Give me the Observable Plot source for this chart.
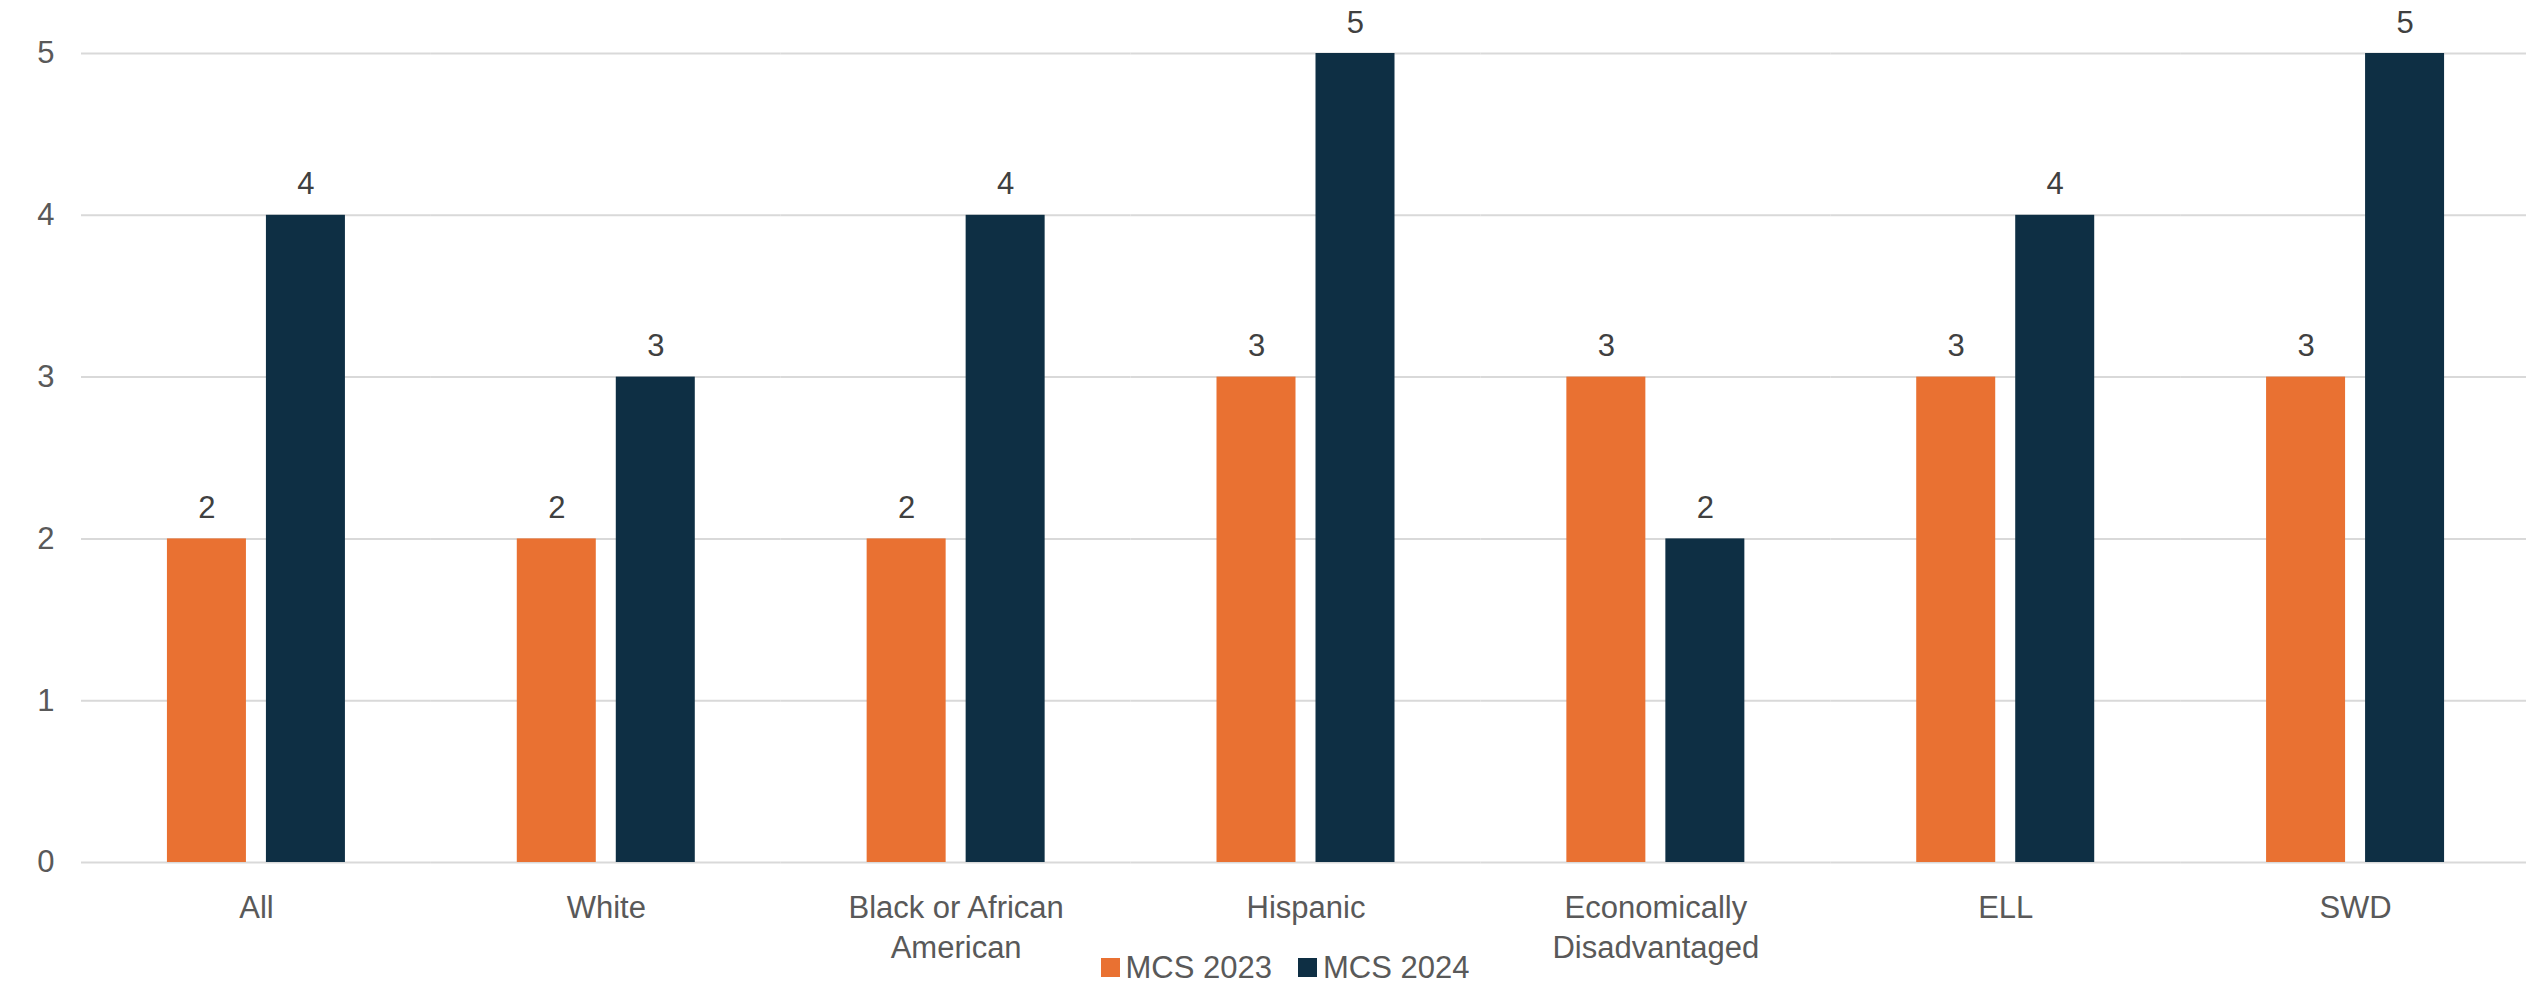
<!DOCTYPE html>
<html>
<head>
<meta charset="utf-8">
<script src="https://cdn.jsdelivr.net/npm/d3@7"></script>
<script src="https://cdn.jsdelivr.net/npm/@observablehq/plot@0.6"></script>
<style>
  html, body { margin: 0; padding: 0; background: #ffffff; overflow: hidden; }
  #chart { width: 2526px; }
  .legend { display: flex; justify-content: center; align-items: center; height: 31px; padding-left: 44px;
            font-family: "Liberation Sans", Arial, sans-serif; font-size: 31px; color: #595959; line-height: 31px; }
  .legend .item { display: flex; align-items: center; margin: 0 13px; }
  .legend .sw { width: 19px; height: 19px; margin-right: 6px; }
</style>
</head>
<body>
<div id="chart"></div>
<script>
const categories = ["All", "White", "Black or African American", "Hispanic", "Economically Disadvantaged", "ELL", "SWD"];
const tickLabels = ["All", "White", "Black or African\nAmerican", "Hispanic", "Economically\nDisadvantaged", "ELL", "SWD"];
const series = ["MCS 2023", "MCS 2024"];
const values2023 = [2, 2, 2, 3, 3, 3, 3];
const values2024 = [4, 3, 4, 5, 2, 4, 5];
const yTicks = [0, 1, 2, 3, 4, 5];
const colors = ["#E97132", "#0E2F44"];

const table = [];
categories.forEach((c, i) => {
  table.push({category: c, series: series[0], value: values2023[i]});
  table.push({category: c, series: series[1], value: values2024[i]});
});

const chart = Plot.plot({
  width: 2526,
  height: 952,
  marginTop: 53,
  marginBottom: 90,
  marginLeft: 81,
  marginRight: -4,
  style: {fontFamily: "Liberation Sans, Arial, sans-serif", fontSize: "31px", color: "#595959", background: "#ffffff", overflow: "visible"},
  fx: {domain: categories, padding: 0, round: false, axis: null},
  x: {domain: series, paddingInner: 0.202, paddingOuter: 0.868, round: false, axis: null},
  y: {domain: [0, 5], axis: null},
  color: {domain: series, range: colors},
  marks: [
    Plot.gridY(yTicks, {stroke: "#d9d9d9", strokeOpacity: 1, strokeWidth: 2}),
    Plot.barY(table, {fx: "category", x: "series", y: "value", fill: "series"}),
    Plot.text(table, {fx: "category", x: "series", y: "value", text: d => String(d.value), lineAnchor: "bottom", dy: -21, fill: "#404040", fontSize: 31}),
    Plot.axisY(yTicks, {tickSize: 0, tickPadding: 27, label: null, fontSize: 31, tickFormat: d => String(d)}),
    Plot.axisFx({anchor: "bottom", tickSize: 0, tickPadding: 27, label: null, lineHeight: 1.3, fontSize: 31,
      tickFormat: d => tickLabels[categories.indexOf(d)]})
  ]
});
document.getElementById("chart").appendChild(chart);

const legend = document.createElement("div");
legend.className = "legend";
series.forEach((s, i) => {
  const item = document.createElement("div");
  item.className = "item";
  const sw = document.createElement("span");
  sw.className = "sw";
  sw.style.background = colors[i];
  const label = document.createElement("span");
  label.textContent = s;
  item.appendChild(sw);
  item.appendChild(label);
  legend.appendChild(item);
});
document.getElementById("chart").appendChild(legend);
</script>
</body>
</html>
